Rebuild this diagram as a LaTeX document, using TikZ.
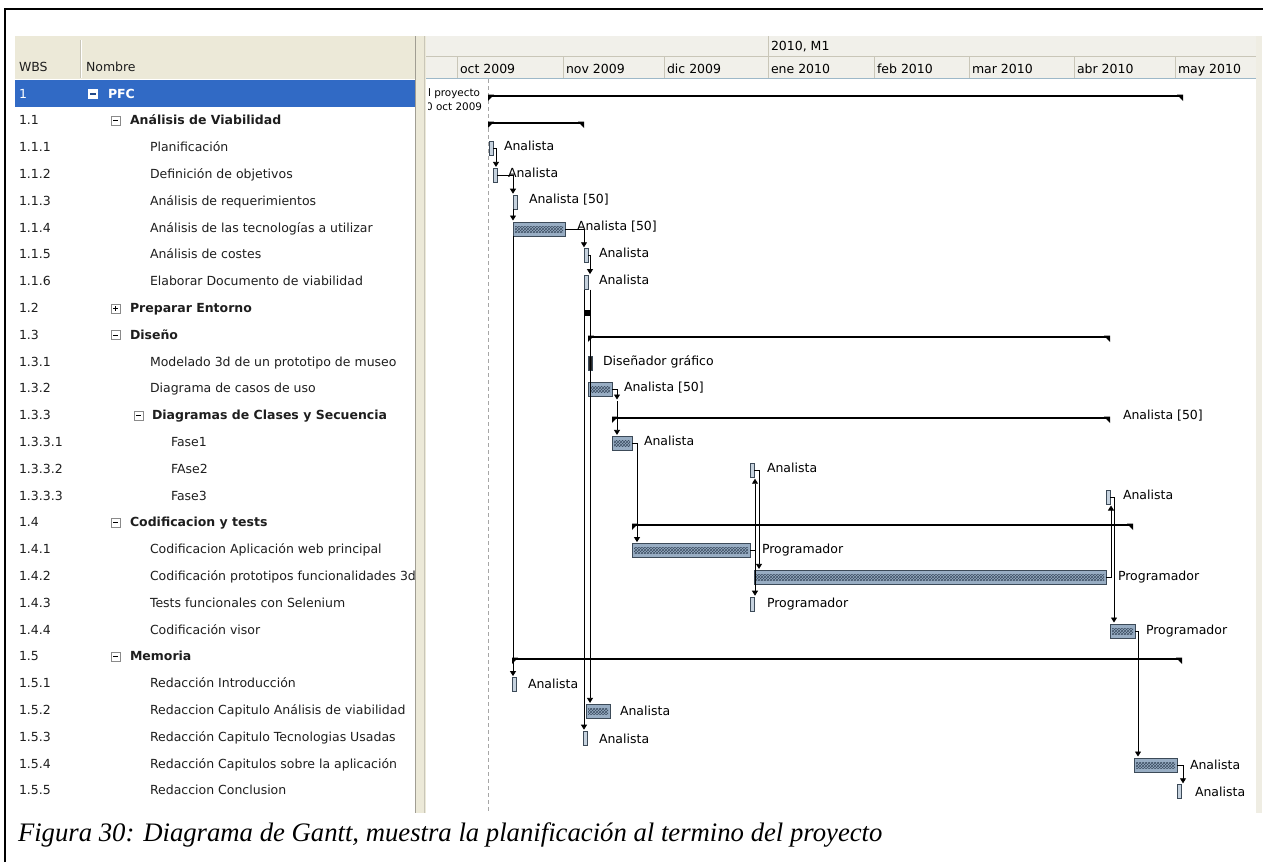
\documentclass[tikz,border=0pt]{standalone}
\usepackage{fontspec}
\setmainfont{DejaVu Sans}
\newfontfamily\capfont{Liberation Serif}
\usetikzlibrary{arrows.meta,patterns,calc}

\definecolor{xpbeige}{HTML}{ECE9D8}
\definecolor{hdrbg}{HTML}{F1F0EA}
\definecolor{hdrline}{HTML}{C9C6B8}
\definecolor{hdrbase}{HTML}{9DB8C8}
\definecolor{selblue}{HTML}{316AC5}
\definecolor{barfill}{HTML}{98ADC3}
\definecolor{barline}{HTML}{3C4A58}
\definecolor{hatchcol}{HTML}{3E5064}
\definecolor{iconline}{HTML}{8A8A8A}
\definecolor{txt}{HTML}{1E1E1E}

% summary bar: x start, x end, y
\newcommand\sumbar[3]{%
  \draw[line width=2.8pt] (#1,#3) -- (#2,#3);
  \fill (#1,#3-1.4) -- (#1+6,#3-1.4) -- (#1,#3+5) -- cycle;
  \fill (#2,#3-1.4) -- (#2-6,#3-1.4) -- (#2,#3+5) -- cycle;}

% tree expander box: x, row, 0 = minus / 1 = plus
\newcommand\treebox[3]{%
  \pgfmathsetmacro\tby{94+26.8*#2}
  \draw[iconline, fill=white, line width=0.6pt] (#1,\tby-4.5) rectangle (#1+9,\tby+4.5);
  \draw[black, line width=0.9pt] (#1+2.2,\tby) -- (#1+6.8,\tby);
  \ifnum#3=1 \draw[black, line width=0.9pt] (#1+4.5,\tby-2.3) -- (#1+4.5,\tby+2.3);\fi}

\begin{document}
\begin{tikzpicture}[x=1pt,y=-1pt,
  every node/.style={inner sep=0pt, outer sep=0pt},
  tbl/.style={anchor=base west, text=txt, font=\fontsize{12.5}{14}\selectfont},
  lbl/.style={anchor=base west, text=black, font=\fontsize{12.5}{14}\selectfont},
  taskbar/.style={draw=barline, fill=barfill, line width=0.8pt, minimum height=14pt, anchor=west,
    path picture={\fill[pattern=crosshatch, pattern color=hatchcol]
      ($(path picture bounding box.south west)+(2pt,4pt)$) rectangle
      ($(path picture bounding box.north east)+(-2pt,-4pt)$);}},
  smallbar/.style={draw=barline, fill=barfill!55!white, line width=0.7pt, minimum height=14pt,
    minimum width=4pt, anchor=west},
  dep/.style={draw=black, line width=0.8pt, shorten >=1.5pt, -{Triangle[width=6pt,length=5pt]}},
]
\useasboundingbox (0,0) rectangle (1263,862);

% page frame
\draw[line width=1.5pt] (5,862) -- (5,9) -- (1263,9);

% ---------- left pane ----------
\fill[xpbeige] (15,36) rectangle (415,79);
\draw[hdrline] (80,40) -- (80,78);
\draw[white] (81,40) -- (81,78);
\node[tbl] (hwbs) at (19,71) {WBS};
\node[tbl] (hnom) at (86,71) {Nombre};
\fill[selblue] (15,80) rectangle (415,107);

\begin{scope}
\clip (15,79) rectangle (414,813);
\node[tbl, text=white] (w0) at (19,98) {1};
\fill[white] (88,89) rectangle (98,99);
\draw[selblue!70!black, line width=1.2pt] (90,94) -- (96,94);
\node[tbl, text=white, font=\fontsize{12.5}{14}\selectfont\bfseries] (n0) at (108,98) {PFC};

\foreach \r/\w in {1/1.1, 2/1.1.1, 3/1.1.2, 4/1.1.3, 5/1.1.4, 6/1.1.5, 7/1.1.6, 8/1.2,
  9/1.3, 10/1.3.1, 11/1.3.2, 12/1.3.3, 13/1.3.3.1, 14/1.3.3.2, 15/1.3.3.3, 16/1.4,
  17/1.4.1, 18/1.4.2, 19/1.4.3, 20/1.4.4, 21/1.5, 22/1.5.1, 23/1.5.2, 24/1.5.3,
  25/1.5.4, 26/1.5.5}
  \node[tbl] (w\r) at (19,{94+26.8*\r+4}) {\w};

% summary rows
\foreach \r/\n in {1/Análisis de Viabilidad, 8/Preparar Entorno, 9/Diseño,
  16/Codificacion y tests, 21/Memoria}
  \node[tbl, font=\fontsize{12.5}{14}\selectfont\bfseries] (n\r) at (130,{94+26.8*\r+4}) {\n};
\node[tbl, font=\fontsize{12.5}{14}\selectfont\bfseries] (n12) at (152,{94+26.8*12+4}) {Diagramas de Clases y Secuencia};
\treebox{111}{1}{0}
\treebox{111}{8}{1}
\treebox{111}{9}{0}
\treebox{111}{16}{0}
\treebox{111}{21}{0}
\treebox{134}{12}{0}

% task rows
\foreach \r/\n in {2/Planificación, 3/Definición de objetivos, 4/Análisis de requerimientos,
  5/Análisis de las tecnologías a utilizar, 6/Análisis de costes,
  7/Elaborar Documento de viabilidad, 10/Modelado 3d de un prototipo de museo,
  11/Diagrama de casos de uso, 17/Codificacion Aplicación web principal,
  18/Codificación prototipos funcionalidades 3d, 19/Tests funcionales con Selenium,
  20/Codificación visor, 22/Redacción Introducción,
  23/Redaccion Capitulo Análisis de viabilidad, 24/Redacción Capitulo Tecnologias Usadas,
  25/Redacción Capitulos sobre la aplicación, 26/Redaccion Conclusion}
  \node[tbl] (n\r) at (150,{94+26.8*\r+4}) {\n};
\foreach \r/\n in {13/Fase1, 14/FAse2, 15/Fase3}
  \node[tbl] (n\r) at (171,{94+26.8*\r+4}) {\n};
\end{scope}

% pane splitter
\fill[xpbeige] (415,36) rectangle (426,813);
\draw[hdrline!80!black] (415.5,36) -- (415.5,813);
\draw[hdrline] (424.5,36) -- (424.5,813);

% ---------- chart pane ----------
\fill[hdrbg] (426,36) rectangle (1256,78);
\fill[hdrbg!60!xpbeige] (1256,36) rectangle (1262,813);
\draw[hdrline] (426,56.5) -- (1256,56.5);
\draw[hdrline] (768,36) -- (768,78);
\foreach \mx in {457,563,664,768,874,969,1074,1175}
  \draw[hdrline] (\mx,56.5) -- (\mx,78);
\draw[hdrbase, line width=1pt] (426,78) -- (1256,78);
\node[lbl] (yr) at (771,50) {2010, M1};
\foreach \mx/\mn/\k in {457/oct 2009/1, 563/nov 2009/2, 664/dic 2009/3, 768/ene 2010/4,
  874/feb 2010/5, 969/mar 2010/6, 1074/abr 2010/7, 1175/may 2010/8}
  \node[lbl] (m\k) at (\mx+3,73) {\mn};

% project start marker
\draw[black!35, line width=0.8pt, dash pattern=on 4pt off 3pt] (488,79) -- (488,813);
\begin{scope}
\clip (428,79) rectangle (1256,813);
\node[anchor=base east, font=\fontsize{10.4}{12}\selectfont] (ps1) at (480,96.5) {del proyecto};
\node[anchor=base east, font=\fontsize{10.4}{12}\selectfont] (ps2) at (482,110.5) {30 oct 2009};
\end{scope}

% summary bars
\sumbar{488}{1183}{96}
\sumbar{488}{584}{123}
\sumbar{588}{1110}{337}
\sumbar{612}{1110}{418}
\sumbar{632}{1133}{525}
\sumbar{512}{1182}{659}

% task bars (row centre = 95 + 26.8*row)
\node[smallbar] (t111) at (489,148.6) {};
\node[smallbar] (t112) at (493,175.4) {};
\node[smallbar] (t113) at (513,202.2) {};
\node[taskbar, minimum width=52pt] (t114) at (513,229) {};
\node[smallbar] (t115) at (584,255.8) {};
\node[smallbar] (t116) at (584,282.6) {};
\node[fill=black, minimum width=6pt, minimum height=6pt, anchor=west] (s12) at (584,313) {};
\node[smallbar, fill=black!85] (t131) at (588,363) {};
\node[taskbar, minimum width=24pt] (t132) at (588,389.8) {};
\node[taskbar, minimum width=20pt] (t1331) at (612,443.4) {};
\node[smallbar] (t1332) at (750,470.2) {};
\node[smallbar] (t1333) at (1106,497) {};
\node[taskbar, minimum width=118pt] (t141) at (632,550.6) {};
\node[taskbar, minimum width=352pt] (t142) at (754,577.4) {};
\node[smallbar] (t143) at (750,604.2) {};
\node[taskbar, minimum width=25pt] (t144) at (1110,631) {};
\node[smallbar] (t151) at (512,684.6) {};
\node[taskbar, minimum width=24pt] (t152) at (586,711.4) {};
\node[smallbar] (t153) at (583,738.2) {};
\node[taskbar, minimum width=43pt] (t154) at (1134,765) {};
\node[smallbar] (t155) at (1177,791.8) {};

% resource labels
\node[lbl] (l111) at (504,150) {Analista};
\node[lbl] (l112) at (508,177) {Analista};
\node[lbl] (l113) at (529,203.5) {Analista [50]};
\node[lbl] (l114) at (577,230.5) {Analista [50]};
\node[lbl] (l115) at (599,257) {Analista};
\node[lbl] (l116) at (599,284) {Analista};
\node[lbl] (l131) at (603,365) {Diseñador gráfico};
\node[lbl] (l132) at (624,391.5) {Analista [50]};
\node[lbl] (l133) at (1123,419) {Analista [50]};
\node[lbl] (l1331) at (644,445) {Analista};
\node[lbl] (l1332) at (767,472) {Analista};
\node[lbl] (l1333) at (1123,499) {Analista};
\node[lbl] (l141) at (762,553) {Programador};
\node[lbl] (l142) at (1118,580) {Programador};
\node[lbl] (l143) at (767,607) {Programador};
\node[lbl] (l144) at (1146,634) {Programador};
\node[lbl] (l151) at (528,688) {Analista};
\node[lbl] (l152) at (620,715) {Analista};
\node[lbl] (l153) at (599,743) {Analista};
\node[lbl] (l154) at (1190,769.5) {Analista};
\node[lbl] (l155) at (1195,796) {Analista};

% dependencies
\coordinate (d116a) at ([xshift=2pt]t116.south east);
\coordinate (d133) at (617,401);
\draw[dep] (t111.east) -| ([xshift=-1pt]t112.north east);
\draw[dep] (t112.east) -| (t113.north west);
\draw[dep] (t113.south west) -- (t114.north west);
\draw[dep] (t114.south west) -- (t114.south west |- t151.north);
\draw[dep] (t114.east) -| (t115.north west);
\draw[dep] (t115.east) -| ([xshift=2pt]t116.north east);
\draw[dep] (d116a) -- (d116a |- t152.north);
\draw[dep] (t116.south west) -- (t116.south west |- t153.north);
\draw[dep] (t132.east) -| (d133);
\draw[dep] (d133) -- (d133 |- t1331.north);
\draw[dep] (t1331.east) -| ([xshift=5pt]t141.north west);
\draw[dep] (t141.east) -| ([xshift=1pt]t1332.south east);
\draw[dep] (t141.east) -| ([xshift=1pt]t143.north east);
\draw[dep] (t1332.east) -| ([xshift=5pt]t142.north west);
\draw[dep] (t142.east) -| ([xshift=1pt]t1333.south east);
\draw[dep] (t1333.east) -| ([xshift=4pt]t144.north west);
\draw[dep] (t144.east) -| ([xshift=4pt]t154.north west);
\draw[dep] (t154.east) -| ([xshift=2pt]t155.north east);

% caption
\node[anchor=base west, font=\capfont\itshape\fontsize{26.7}{30}\selectfont] (cap) at (18,841)
  {Figura 30: Diagrama de Gantt, muestra la planificación al termino del proyecto};
\end{tikzpicture}
\end{document}
